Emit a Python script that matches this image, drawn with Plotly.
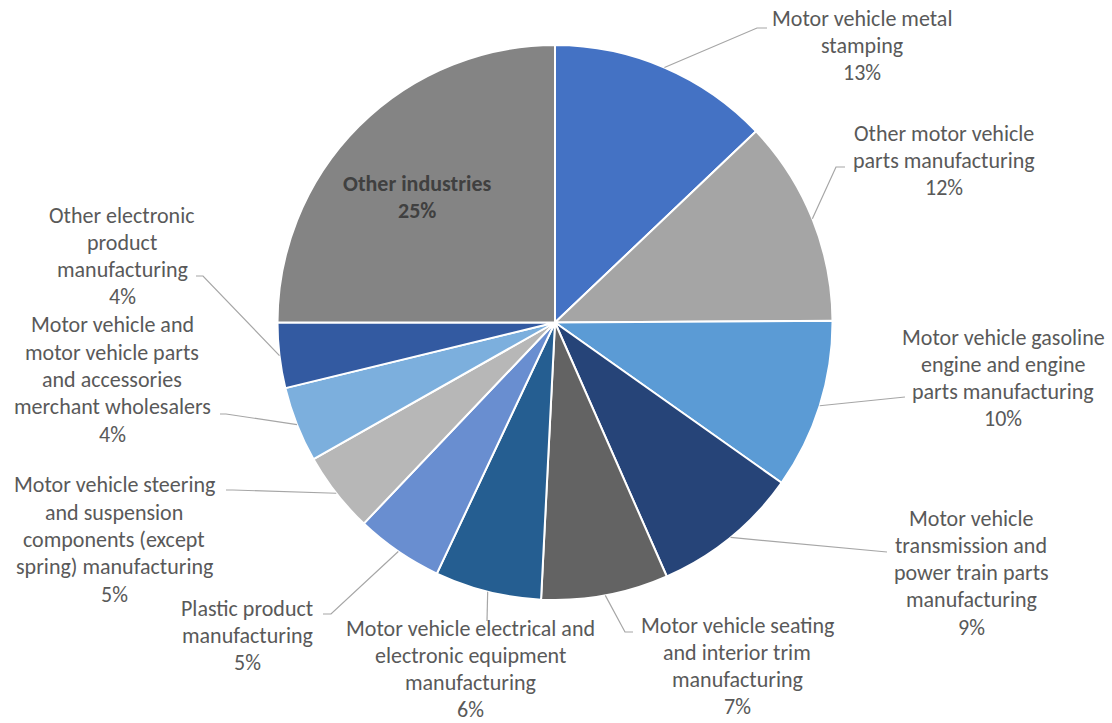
import math
import plotly.graph_objects as go

# ---- data ----
categories = [
    "Motor vehicle metal stamping",
    "Other motor vehicle parts manufacturing",
    "Motor vehicle gasoline engine and engine parts manufacturing",
    "Motor vehicle transmission and power train parts manufacturing",
    "Motor vehicle seating and interior trim manufacturing",
    "Motor vehicle electrical and electronic equipment manufacturing",
    "Plastic product manufacturing",
    "Motor vehicle steering and suspension components (except spring) manufacturing",
    "Motor vehicle and motor vehicle parts and accessories merchant wholesalers",
    "Other electronic product manufacturing",
    "Other industries",
]
shares = [12.9, 12.0, 9.9, 8.6, 7.4, 6.2, 5.1, 4.7, 4.4, 3.8, 25.0]
label_lines = [
    ["Motor vehicle metal", "stamping"],
    ["Other motor vehicle", "parts manufacturing"],
    ["Motor vehicle gasoline", "engine and engine", "parts manufacturing"],
    ["Motor vehicle", "transmission and", "power train parts", "manufacturing"],
    ["Motor vehicle seating", "and interior trim", "manufacturing"],
    ["Motor vehicle electrical and", "electronic equipment", "manufacturing"],
    ["Plastic product", "manufacturing"],
    ["Motor vehicle steering", "and suspension", "components (except", "spring) manufacturing"],
    ["Motor vehicle and", "motor vehicle parts", "and accessories", "merchant wholesalers"],
    ["Other electronic", "product", "manufacturing"],
    ["Other industries"],
]

# ---- style / layout ----
colors = ["#4472C4", "#A5A5A5", "#5B9BD5", "#264478", "#636363", "#255E91",
          "#698ED0", "#B7B7B7", "#7CAFDD", "#335AA1", "#848484"]
W, H = 1112, 723
CX, CY, R = 555.0, 322.5, 277.5
FONT = "Calibri, Carlito, Lato, sans-serif"
TXT = "#595959"
LINE_H = 27.3

# label layout: (text center x, first line center y, elbow point, line end point)
label_layout = [
    (862, 18, (757, 28), (767, 28)),
    (944, 133, (836, 167), (845, 167)),
    (1003, 337, (905, 397), (905, 397)),
    (971, 518, (887, 552), (887, 552)),
    (737, 625, (625, 632), (633, 632)),
    (470, 628, (487, 621), (487, 621)),
    (247, 608, (331, 614), (323, 614)),
    (114, 485, (233, 490), (226, 490)),
    (112, 325, (226, 414), (220, 414)),
    (122, 215, (203, 276), (196, 276)),
    (417, 183, None, None),
]


def px(x):
    return x / W


def py(y):
    return 1 - y / H


fig = go.Figure(go.Pie(
    labels=categories,
    values=shares,
    sort=False,
    direction="clockwise",
    rotation=0,
    marker=dict(colors=colors, line=dict(color="white", width=2)),
    textinfo="none",
    hoverinfo="label+percent",
    domain=dict(x=[px(CX - R), px(CX + R)], y=[py(CY + R), py(CY - R)]),
    showlegend=False,
))

total = sum(shares)
annotations = []
shapes = []
cum = 0.0
for i, v in enumerate(shares):
    mid = (cum + v / 2) / total * 2 * math.pi
    cum += v
    sx = CX + R * math.sin(mid)
    sy = CY - R * math.cos(mid)
    tx, ty, elbow, end = label_layout[i]
    lines = label_lines[i] + [f"{round(v / total * 100)}%"]
    inside = elbow is None
    for k, t in enumerate(lines):
        annotations.append(dict(
            x=px(tx), y=py(ty + k * LINE_H), xref="paper", yref="paper",
            text=f"<b>{t}</b>" if inside else t,
            showarrow=False, xanchor="center", yanchor="middle",
            font=dict(family=FONT, size=22,
                      color="#404040" if inside else TXT),
        ))
    if not inside:
        path = f"M {px(sx)} {py(sy)} L {px(elbow[0])} {py(elbow[1])} L {px(end[0])} {py(end[1])}"
        shapes.append(dict(type="path", xref="paper", yref="paper", path=path,
                           line=dict(color="#A6A6A6", width=1.2)))

fig.update_layout(
    width=W, height=H,
    margin=dict(l=0, r=0, t=0, b=0),
    paper_bgcolor="white",
    plot_bgcolor="white",
    annotations=annotations,
    shapes=shapes,
)

fig.write_html("out.html")
